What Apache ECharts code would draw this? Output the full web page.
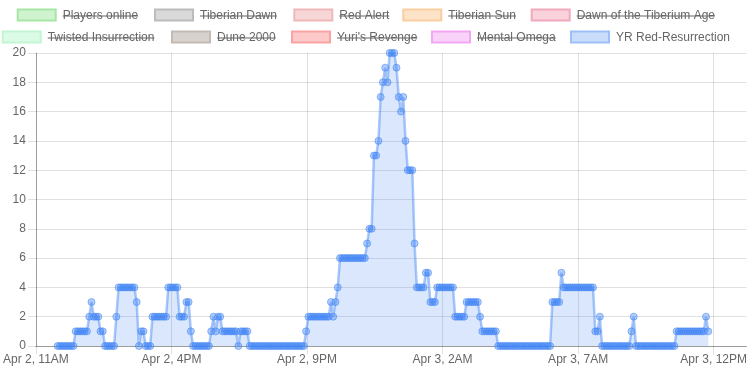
<!DOCTYPE html>
<html>
<head>
<meta charset="utf-8">
<script src="https://cdn.jsdelivr.net/npm/echarts@6/dist/echarts.min.js"></script>
<style>
html,body{margin:0;padding:0;background:#fff;}
#chart{width:750px;height:375px;}
</style>
</head>
<body>
<div id="chart"></div>
<script>
// ---- data ----
const seriesNames = ['Players online','Tiberian Dawn','Red Alert','Tiberian Sun','Dawn of the Tiberium Age',
  'Twisted Insurrection','Dune 2000',"Yuri's Revenge",'Mental Omega','YR Red-Resurrection'];
const seriesHidden = [true,true,true,true,true,true,true,true,true,false];
const seriesFill = ['#cff3cf','#d9d9d9','#f6d6d6','#fde4c9','#f9d2dc','#dcfbe7','#d8d2ce','#fcc8c8','#f9d2f9','#c9dcfa'];
const seriesBorder = ['#a6e6a6','#bcbcbc','#f0b8b8','#f8cd9f','#f2a9bd','#c2f6d3','#c2bab3','#f9a3a3','#f3a6f3','#9dbff7'];

const xTickLabels = ['Apr 2, 11AM','Apr 2, 4PM','Apr 2, 9PM','Apr 3, 2AM','Apr 3, 7AM','Apr 3, 12PM'];
const yTickValues = [0,2,4,6,8,10,12,14,16,18,20];

// hours after Apr 2, 11AM; samples every 5 minutes
const startHour = 0.8;
const stepHours = 5 / 60;
const yrValues = [
  0,0,0,0,0,0,0,0, 1,1,1,1,1,1, 2,3,2,2,2, 1,1, 0,0,0,0,0, 2,
  4,4,4,4,4,4,4,4, 3,0, 1,1, 0,0,0, 2,2,2,2,2,2,2, 4,4,4,4,4, 2,2,2, 3,3, 1,
  0,0,0,0,0,0,0,0, 1,2,1,2,2, 1,1,1,1,1,1,1, 0, 1,1,1,1,
  0,0,0,0,0,0,0,0,0,0,0,0,0,0,0,0,0,0,0,0,0,0,0,0,0,
  1, 2,2,2,2,2,2,2,2,2,2, 3,2,3,4,
  6,6,6,6,6,6,6,6,6,6,6,6, 7,8,8,
  13,13,14,17,18,19,18,20,20,20,19,17,16,17,14,12,12,12,7,
  4,4,4,4, 5,5, 3,3,3, 4,4,4,4,4,4,4,4, 2,2,2,2,2, 3,3,3,3,3,3, 2,
  1,1,1,1,1,1,1,
  0,0,0,0,0,0,0,0,0,0,0,0,0,0,0,0,0,0,0,0,0,0,0,0,
  3,3,3,3, 5, 4,4,4,4,4,4,4,4,4,4,4,4,4,4, 1,1, 2,
  0,0,0,0,0,0,0,0,0,0,0,0,0, 1,2,
  0,0,0,0,0,0,0,0,0,0,0,0,0,0,0,0,0,0,
  1,1,1,1,1,1,1,1,1,1,1,1,1, 2,1
];

// ---- layout ----
const FONT = '"Liberation Sans", Arial, Helvetica, sans-serif';
const legendRows = [[0,1,2,3,4],[5,6,7,8,9]];
const legendBoxX = [[16.7,154,293.3,402.3,530.7],[1.7,171,291,431,570]];
const legendRowY = [15.5, 37.5];

const measureCtx = document.createElement('canvas').getContext('2d');
measureCtx.font = '12px ' + FONT;

const graphics = [];
legendRows.forEach((row, r) => {
  row.forEach((si, k) => {
    const bx = legendBoxX[r][k];
    const cy = legendRowY[r];
    graphics.push({
      type: 'rect', shape: {x: bx + 1, y: cy - 6, width: 38, height: 11},
      style: {fill: seriesFill[si], stroke: seriesBorder[si], lineWidth: 2}
    });
    const tx = bx + 46;
    graphics.push({
      type: 'text', x: tx, y: cy,
      style: {text: seriesNames[si], fill: '#666', font: '12px ' + FONT, textVerticalAlign: 'middle', verticalAlign: 'middle'}
    });
    if (seriesHidden[si]) {
      const w = measureCtx.measureText(seriesNames[si]).width;
      graphics.push({
        type: 'line', shape: {x1: tx, y1: cy + 0.5, x2: tx + w, y2: cy + 0.5},
        style: {stroke: '#666', lineWidth: 1}
      });
    }
  });
});

const yrData = yrValues.map((v, i) => [startHour + i * stepHours, v]);

const chart = echarts.init(document.getElementById('chart'), null, {renderer: 'canvas'});
chart.setOption({
  animation: false,
  backgroundColor: '#fff',
  textStyle: {fontFamily: FONT},
  grid: {left: 35, right: 2, top: 53, bottom: 29, containLabel: false},
  graphic: graphics,
  xAxis: {
    type: 'value', min: 0, max: 26.21, interval: 5,
    axisLine: {show: true, lineStyle: {color: 'rgba(0,0,0,0.3)', width: 1}},
    axisTick: {show: true, length: 8, lineStyle: {color: 'rgba(0,0,0,0.12)'}},
    splitLine: {show: true, showMaxLine: false, lineStyle: {color: 'rgba(0,0,0,0.12)', width: 1}},
    axisLabel: {
      color: '#666', fontSize: 12, fontFamily: FONT, margin: 8, showMaxLabel: false,
      formatter: v => {
        const k = Math.round(v / 5);
        return Math.abs(v - k * 5) < 1e-6 && xTickLabels[k] ? xTickLabels[k] : '';
      }
    }
  },
  yAxis: {
    type: 'value', min: yTickValues[0], max: yTickValues[yTickValues.length - 1], interval: 2,
    axisLine: {show: true, lineStyle: {color: 'rgba(0,0,0,0.3)', width: 1}},
    axisTick: {show: true, length: 8, lineStyle: {color: 'rgba(0,0,0,0.12)'}},
    splitLine: {show: true, lineStyle: {color: 'rgba(0,0,0,0.12)', width: 1}},
    axisLabel: {color: '#666', fontSize: 12, fontFamily: FONT, margin: 10}
  },
  series: [{
    name: seriesNames[9],
    type: 'line',
    data: yrData,
    smooth: false,
    symbol: 'circle',
    symbolSize: 7,
    showSymbol: true,
    showAllSymbol: true,
    itemStyle: {color: 'rgba(66,133,244,0.4)', borderColor: 'rgba(66,133,244,0.55)', borderWidth: 1},
    lineStyle: {color: 'rgba(66,133,244,0.45)', width: 2.5},
    areaStyle: {color: 'rgba(66,133,244,0.28)'},
    emphasis: {disabled: true}
  }]
});
</script>
</body>
</html>
